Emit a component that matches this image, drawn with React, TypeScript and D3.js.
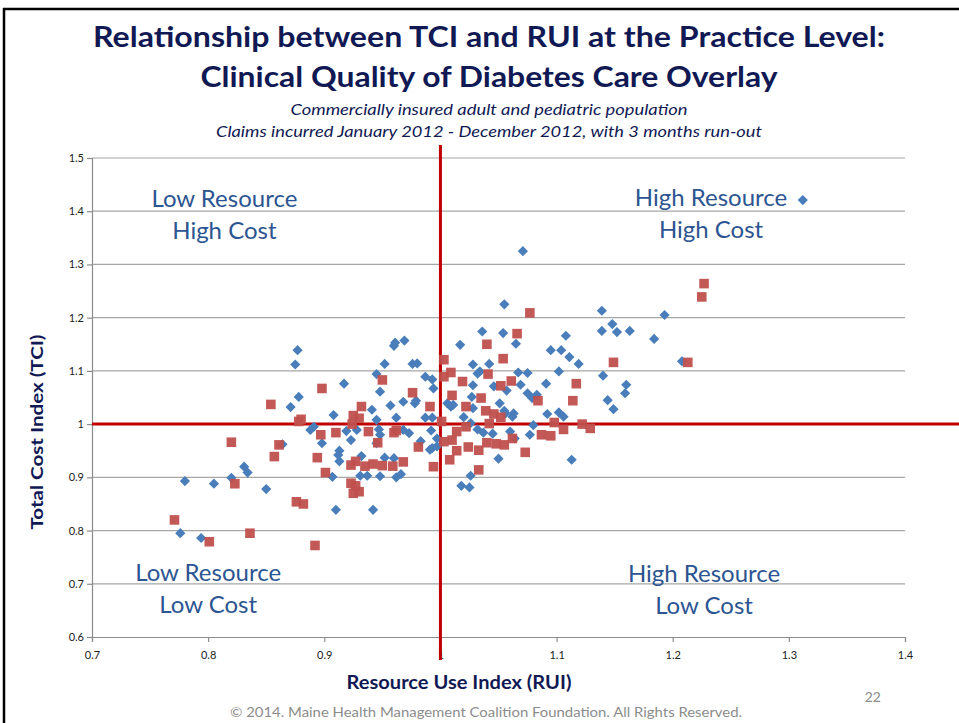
import * as d3 from "d3";
import { useRef, useEffect } from "react";

// [RUI, TCI] per practice
const diamondPoints: [number, number][] = [
  [0.776, 0.795], [0.794, 0.786], [0.78, 0.893], [0.805, 0.888], [0.82, 0.899],
  [0.831, 0.92], [0.834, 0.909], [0.85, 0.878], [0.864, 0.962], [0.871, 1.032],
  [0.877, 1.139], [0.875, 1.112], [0.878, 1.051], [0.96, 1.147], [0.961, 1.153],
  [0.969, 1.157], [0.952, 1.113], [0.945, 1.094], [0.976, 1.113], [0.98, 1.114],
  [0.917, 1.076], [0.948, 1.061], [0.987, 1.089], [0.993, 1.084], [0.994, 1.067],
  [0.957, 1.035], [0.968, 1.042], [0.978, 1.039], [0.979, 1.044], [0.941, 1.027],
  [0.908, 1.017], [0.962, 1.012], [0.987, 1.012], [0.993, 1.012], [0.945, 1.008],
  [0.888, 0.989], [0.891, 0.995], [0.919, 0.987], [0.928, 0.989], [0.947, 0.99],
  [0.948, 0.98], [0.968, 0.989], [0.973, 0.983], [0.992, 0.988], [0.898, 0.964],
  [0.923, 0.97], [0.945, 0.964], [0.913, 0.95], [0.912, 0.942], [0.913, 0.93],
  [0.983, 0.968], [0.991, 0.952], [0.993, 0.955], [0.997, 0.973], [0.997, 0.958],
  [0.932, 0.94], [0.952, 0.937], [0.96, 0.936], [0.907, 0.901], [0.931, 0.903],
  [0.937, 0.903], [0.948, 0.902], [0.962, 0.9], [0.966, 0.906], [0.91, 0.839],
  [0.942, 0.839], [1.071, 1.325], [1.055, 1.225], [1.036, 1.174], [1.054, 1.171],
  [1.017, 1.149], [1.065, 1.151], [1.108, 1.166], [1.095, 1.139], [1.104, 1.139],
  [1.111, 1.126], [1.119, 1.113], [1.028, 1.112], [1.042, 1.113], [1.032, 1.095],
  [1.034, 1.099], [1.067, 1.097], [1.075, 1.096], [1.102, 1.099], [1.028, 1.073],
  [1.046, 1.071], [1.057, 1.063], [1.069, 1.074], [1.091, 1.076], [1.075, 1.058],
  [1.079, 1.049], [1.083, 1.055], [1.027, 1.051], [1.006, 1.039], [1.011, 1.036],
  [1.009, 1.033], [1.028, 1.03], [1.051, 1.039], [1.055, 1.025], [1.056, 1.02],
  [1.063, 1.02], [1.062, 1.014], [1.092, 1.019], [1.102, 1.022], [1.106, 1.014],
  [1.02, 1.013], [1.026, 1.002], [1.08, 0.998], [1.032, 0.99], [1.037, 0.984],
  [1.045, 0.982], [1.06, 0.986], [1.077, 0.98], [1.064, 0.973], [1.05, 0.935],
  [1.113, 0.933], [1.026, 0.903], [1.018, 0.884], [1.025, 0.881], [1.139, 1.213],
  [1.193, 1.205], [1.148, 1.188], [1.139, 1.175], [1.152, 1.173], [1.163, 1.175],
  [1.184, 1.16], [1.208, 1.118], [1.14, 1.091], [1.16, 1.074], [1.159, 1.058],
  [1.144, 1.045], [1.149, 1.028], [1.312, 1.421],
];

const squarePoints: [number, number][] = [
  [0.771, 0.82], [0.801, 0.779], [0.836, 0.795], [0.82, 0.966], [0.823, 0.888],
  [0.854, 1.037], [0.861, 0.961], [0.857, 0.939], [0.876, 0.854], [0.882, 0.85],
  [0.878, 1.005], [0.88, 1.009], [0.892, 0.772], [0.898, 1.067], [0.95, 1.083],
  [0.976, 1.059], [0.991, 1.033], [0.932, 1.033], [0.925, 1.016], [0.93, 1.011],
  [0.924, 1.0], [0.897, 0.98], [0.91, 0.984], [0.938, 0.986], [0.96, 0.984],
  [0.962, 0.988], [0.946, 0.965], [0.981, 0.957], [0.894, 0.937], [0.923, 0.923],
  [0.927, 0.93], [0.935, 0.921], [0.942, 0.925], [0.95, 0.922], [0.959, 0.921],
  [0.968, 0.929], [0.994, 0.92], [0.901, 0.909], [0.923, 0.889], [0.927, 0.884],
  [0.925, 0.87], [0.93, 0.873], [1.003, 1.089], [1.001, 1.005], [1.077, 1.209],
  [1.066, 1.17], [1.04, 1.15], [1.054, 1.123], [1.003, 1.121], [1.009, 1.097],
  [1.019, 1.08], [1.041, 1.094], [1.061, 1.081], [1.052, 1.072], [1.01, 1.054],
  [1.035, 1.049], [1.084, 1.044], [1.114, 1.044], [1.117, 1.076], [1.022, 1.033],
  [1.039, 1.025], [1.046, 1.019], [1.052, 1.013], [1.042, 1.001], [1.098, 1.003],
  [1.106, 0.99], [1.014, 0.986], [1.01, 0.97], [1.022, 0.995], [1.003, 0.967],
  [1.04, 0.965], [1.048, 0.963], [1.055, 0.961], [1.062, 0.973], [1.087, 0.98],
  [1.095, 0.978], [1.014, 0.95], [1.024, 0.957], [1.033, 0.951], [1.073, 0.947],
  [1.008, 0.933], [1.033, 0.914], [1.122, 1.0], [1.129, 0.992], [1.149, 1.116],
  [1.213, 1.116], [1.225, 1.239], [1.227, 1.264],
];

const xTicks = [0.7, 0.8, 0.9, 1, 1.1, 1.2, 1.3, 1.4];
const yTicks = [0.6, 0.7, 0.8, 0.9, 1, 1.1, 1.2, 1.3, 1.4, 1.5];

// quadrant captions: anchor of first baseline in data units, two lines
const quadrantLabels: { rui: number; tci: number; lines: string[] }[] = [
  { rui: 0.814, tci: 1.408, lines: ["Low Resource", "High Cost"] },
  { rui: 1.233, tci: 1.41, lines: ["High Resource", "High Cost"] },
  { rui: 0.8, tci: 0.705, lines: ["Low Resource", "Low Cost"] },
  { rui: 1.227, tci: 0.703, lines: ["High Resource", "Low Cost"] },
];

const titleLines = [
  "Relationship between TCI and RUI at the Practice Level:",
  "Clinical Quality of Diabetes Care Overlay",
];
const subtitleLines = [
  "Commercially insured adult and pediatric population",
  "Claims incurred January 2012 - December 2012, with 3 months run-out",
];

const W = 959;
const H = 723;
const FONT = "Lato, 'Open Sans', sans-serif";

const App = () => {
  const ref = useRef<SVGSVGElement>(null);

  useEffect(() => {
    const svg = d3.select(ref.current);
    svg.selectAll("*").remove();

    const x = d3.scaleLinear().domain([0.7, 1.4]).range([92, 905]);
    const y = d3.scaleLinear().domain([0.6, 1.5]).range([637, 158]);

    svg.append("rect").attr("width", W).attr("height", H).attr("fill", "#fff");

    // slide frame
    svg.append("line")
      .attr("x1", 3).attr("x2", W).attr("y1", 9).attr("y2", 9)
      .attr("stroke", "#000").attr("stroke-width", 2.5);
    svg.append("line")
      .attr("x1", 4).attr("x2", 4).attr("y1", 8).attr("y2", H)
      .attr("stroke", "#000").attr("stroke-width", 2.5);

    // titles
    const titleWidths = [792, 577];
    titleLines.forEach((t, i) => {
      svg.append("text")
        .attr("x", 489).attr("y", 47 + i * 40)
        .attr("text-anchor", "middle")
        .attr("font-family", FONT).attr("font-weight", 700).attr("font-size", 29)
        .attr("fill", "#111954")
        .attr("textLength", titleWidths[i]).attr("lengthAdjust", "spacingAndGlyphs")
        .text(t);
    });
    const subWidths = [397, 546];
    subtitleLines.forEach((t, i) => {
      svg.append("text")
        .attr("x", 489).attr("y", 115 + i * 22)
        .attr("text-anchor", "middle")
        .attr("font-family", FONT).attr("font-style", "italic").attr("font-size", 15)
        .attr("fill", "#111954")
        .attr("textLength", subWidths[i]).attr("lengthAdjust", "spacingAndGlyphs")
        .text(t);
    });

    // gridlines
    svg.append("g")
      .selectAll("line")
      .data(yTicks.filter(d => d > 0.6))
      .join("line")
      .attr("x1", x(0.7)).attr("x2", x(1.4))
      .attr("y1", d => y(d)).attr("y2", d => y(d))
      .attr("stroke", "#a6a6a6").attr("stroke-width", 1.2);

    // axes
    const xAxis = svg.append("g")
      .attr("transform", `translate(0,${y(0.6)})`)
      .call(d3.axisBottom(x).tickValues(xTicks).tickSize(5).tickFormat(d3.format("~g")));
    const yAxis = svg.append("g")
      .attr("transform", `translate(${x(0.7)},0)`)
      .call(d3.axisLeft(y).tickValues(yTicks).tickSize(5).tickFormat(d3.format("~g")));
    [xAxis, yAxis].forEach(g => {
      g.selectAll("path, line").attr("stroke", "#8c8c8c").attr("stroke-width", 1.2);
      g.selectAll("text")
        .attr("font-family", FONT).attr("font-size", 11).attr("fill", "#222");
    });
    xAxis.selectAll("text").attr("dy", "1.3em");

    // reference lines at RUI = 1 and TCI = 1
    svg.append("line")
      .attr("x1", x(1)).attr("x2", x(1)).attr("y1", 145).attr("y2", 660)
      .attr("stroke", "#c00000").attr("stroke-width", 3);
    svg.append("line")
      .attr("x1", x(0.7)).attr("x2", W).attr("y1", y(1)).attr("y2", y(1))
      .attr("stroke", "#c00000").attr("stroke-width", 3);

    // quadrant captions
    quadrantLabels.forEach(q => {
      q.lines.forEach((l, i) => {
        svg.append("text")
          .attr("x", x(q.rui)).attr("y", y(q.tci) + i * 32)
          .attr("text-anchor", "middle")
          .attr("font-family", FONT).attr("font-size", 24)
          .attr("fill", "#2c5591")
          .text(l);
      });
    });

    // points
    const diamond = d3.symbol().type(d3.symbolSquare).size(52);
    svg.append("g")
      .selectAll("path")
      .data(diamondPoints)
      .join("path")
      .attr("d", diamond)
      .attr("transform", d => `translate(${x(d[0])},${y(d[1])}) rotate(45)`)
      .attr("fill", "#4a7ebb");

    const square = d3.symbol().type(d3.symbolSquare).size(92);
    svg.append("g")
      .selectAll("path")
      .data(squarePoints)
      .join("path")
      .attr("d", square)
      .attr("transform", d => `translate(${x(d[0])},${y(d[1])})`)
      .attr("fill", "#c0504d")
      .attr("fill-opacity", 0.95);

    // axis titles
    svg.append("text")
      .attr("transform", "translate(43,432) rotate(-90)")
      .attr("text-anchor", "middle")
      .attr("font-family", FONT).attr("font-weight", 700).attr("font-size", 17)
      .attr("fill", "#111954")
      .attr("textLength", 195).attr("lengthAdjust", "spacingAndGlyphs")
      .text("Total Cost Index (TCI)");
    svg.append("text")
      .attr("x", 459).attr("y", 689)
      .attr("text-anchor", "middle")
      .attr("font-family", FONT).attr("font-weight", 700).attr("font-size", 18)
      .attr("fill", "#111954")
      .attr("textLength", 225).attr("lengthAdjust", "spacingAndGlyphs")
      .text("Resource Use Index (RUI)");

    // footer
    svg.append("text")
      .attr("x", 486).attr("y", 717)
      .attr("text-anchor", "middle")
      .attr("font-family", FONT).attr("font-size", 14)
      .attr("fill", "#8c8c8c")
      .attr("textLength", 512).attr("lengthAdjust", "spacingAndGlyphs")
      .text("© 2014. Maine Health Management Coalition Foundation.  All Rights Reserved.");
    svg.append("text")
      .attr("x", 881).attr("y", 702)
      .attr("text-anchor", "end")
      .attr("font-family", FONT).attr("font-size", 14)
      .attr("fill", "#8c8c8c")
      .text("22");
  }, []);

  return (
    <svg
      ref={ref}
      width={W}
      height={H}
      style={{ position: "absolute", left: 0, top: 0 }}
    />
  );
};

export default App;
